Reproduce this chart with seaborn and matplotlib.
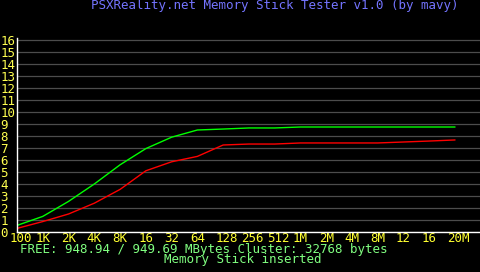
import matplotlib
matplotlib.use("Agg")
import matplotlib.pyplot as plt
import matplotlib.transforms as mtransforms
import seaborn as sns
import pandas as pd
import numpy as np

# ---- data ----
size_labels = ["100", "1K", "2K", "4K", "8K", "16", "32", "64", "128", "256",
               "512", "1M", "2M", "4M", "8M", "12", "16", "20M"]
write_speed = [0.55, 1.3, 2.55, 4.0, 5.6, 6.95, 7.9, 8.5, 8.58, 8.67,
               8.67, 8.75, 8.75, 8.75, 8.75, 8.75, 8.75, 8.75]
read_speed = [0.3, 0.87, 1.5, 2.4, 3.55, 5.1, 5.85, 6.3, 7.25, 7.33,
              7.33, 7.42, 7.42, 7.42, 7.42, 7.5, 7.58, 7.67]
y_ticks = list(range(0, 17))
title_text = "PSXReality.net Memory Stick Tester v1.0 (by mavy)"
free_text = "FREE: 948.94 / 949.69 MBytes Cluster: 32768 bytes"
status_text = "Memory Stick inserted"

idx = np.arange(len(size_labels))
df = pd.DataFrame({
    "idx": np.concatenate([idx, idx]),
    "speed": write_speed + read_speed,
    "series": ["green"] * len(idx) + ["red"] * len(idx),
})

W, H, DPI = 480, 272, 100
sns.set_style("dark")
plt.rcParams["font.family"] = ["DejaVu Sans Mono", "DejaVu Sans"]

fig = plt.figure(figsize=(W / DPI, H / DPI), dpi=DPI, facecolor="black")
ax_left, ax_bottom = 17, 232
ymax = 16.2
ax = fig.add_axes([ax_left / W, (H - ax_bottom) / H, (W - ax_left) / W, ymax * 12 / H])
ax.set_facecolor("black")

sns.lineplot(data=df, x="idx", y="speed", hue="series",
             palette={"green": "#00ff00", "red": "#ff0000"},
             linewidth=1.0, legend=False, ax=ax)

x_step = 25.8
x0 = 16.4
ax.set_xlim((ax_left - x0) / x_step, (W - x0) / x_step)
ax.set_ylim(0, ymax)

ax.set_yticks(y_ticks)
ax.set_yticklabels([str(v) for v in y_ticks])
ax.set_xticks(idx)
ax.set_xticklabels(size_labels)
ax.set_xlabel("")
ax.set_ylabel("")

ax.grid(axis="y", color="#4c4c4c", linewidth=0.9)
ax.grid(axis="x", visible=False)
for s in ["top", "right"]:
    ax.spines[s].set_visible(False)
for s in ["left", "bottom"]:
    ax.spines[s].set_visible(True)
    ax.spines[s].set_color("white")
    ax.spines[s].set_linewidth(1.0)

ax.tick_params(axis="y", length=0, pad=12.2, labelsize=9, labelcolor="#ffff50")
ax.tick_params(axis="x", length=0, pad=0.0, labelsize=9, labelcolor="#ffff30")
for lab in ax.get_yticklabels():
    lab.set_horizontalalignment("left")
offset = mtransforms.ScaledTranslation(-7.5 / DPI, 0, fig.dpi_scale_trans)
for lab in ax.get_xticklabels():
    lab.set_horizontalalignment("left")
    lab.set_transform(lab.get_transform() + offset)

fig.text(275 / W, 1 - 5.5 / H, title_text, color="#7474ff", fontsize=9,
         ha="center", va="center")
fig.text(204 / W, 1 - 249.5 / H, free_text, color="#80ff80", fontsize=9,
         ha="center", va="center")
fig.text(243 / W, 1 - 260 / H, status_text, color="#80ff80", fontsize=9,
         ha="center", va="center")

fig.savefig("out.png", dpi=DPI, facecolor="black")
